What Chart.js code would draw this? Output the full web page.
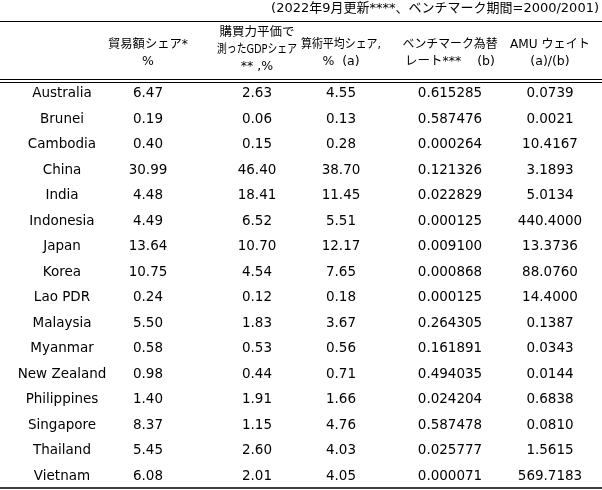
<!DOCTYPE html>
<html><head><meta charset="utf-8">
<script src="https://cdn.jsdelivr.net/npm/chart.js@4"></script>
<style>body{margin:0;background:#fff}#wrap{width:602px;height:490px}</style>
</head><body><div id="wrap"><canvas id="tbl"></canvas></div>
<script>
const countries = ['Australia','Brunei','Cambodia','China','India','Indonesia','Japan','Korea','Lao PDR','Malaysia','Myanmar','New Zealand','Philippines','Singapore','Thailand','Vietnam'];
const tradeShare = ['6.47','0.19','0.40','30.99','4.48','4.49','13.64','10.75','0.24','5.50','0.58','0.98','1.40','8.37','5.45','6.08'];
const gdpShare = ['2.63','0.06','0.15','46.40','18.41','6.52','10.70','4.54','0.12','1.83','0.53','0.44','1.91','1.15','2.60','2.01'];
const avgShare = ['4.55','0.13','0.28','38.70','11.45','5.51','12.17','7.65','0.18','3.67','0.56','0.71','1.66','4.76','4.03','4.05'];
const benchRate = ['0.615285','0.587476','0.000264','0.121326','0.022829','0.000125','0.009100','0.000868','0.000125','0.264305','0.161891','0.494035','0.024204','0.587478','0.025777','0.000071'];
const amuWeight = ['0.0739','0.0021','10.4167','3.1893','5.0134','440.4000','13.3736','88.0760','14.4000','0.1387','0.0343','0.0144','0.6838','0.0810','1.5615','569.7183'];
const headers = [
  [],
  ['貿易額シェア*','%'],
  ['購買力平価で','測ったGDPシェア','** ,%'],
  ['算術平均シェア,','%  (a)'],
  ['ベンチマーク為替','レート***    (b)'],
  ['AMU ウェイト','(a)/(b)']
];
const caption = '(2022年9月更新****、ベンチマーク期間=2000/2001)';

const colX = [62, 148, 257, 341, 450, 550];
const headW = [0, 80, 80, 80, 95, 80];
const FONT = '"DejaVu Sans", "Noto Sans CJK JP", sans-serif';

const tablePlugin = {
  id: 'tablePlugin',
  afterDraw(chart) {
    const ctx = chart.ctx, ys = chart.scales.y, W = chart.width;
    ctx.save();
    ctx.fillStyle = '#000';
    ctx.textBaseline = 'middle';
    // caption
    ctx.font = '13px ' + FONT;
    ctx.textAlign = 'right';
    ctx.fillText(caption, 599, 9, 340);
    // rules
    ctx.strokeStyle = '#000';
    [[21.5,1.2],[79.5,1],[82.5,1],[488,1.5]].forEach(([y,w]) => {
      ctx.lineWidth = w; ctx.beginPath(); ctx.moveTo(0, y); ctx.lineTo(W, y); ctx.stroke();
    });
    // headers
    ctx.textAlign = 'center';
    ctx.font = '12.5px ' + FONT;
    headers.forEach((lines, c) => {
      const y0 = lines.length === 3 ? 33 : 45;
      lines.forEach((t, i) => ctx.fillText(t, colX[c], y0 + i * 17, headW[c]));
    });
    // body
    ctx.font = '13.5px ' + FONT;
    const cols = [countries, tradeShare, gdpShare, avgShare, benchRate, amuWeight];
    countries.forEach((name, r) => {
      const y = ys.getPixelForValue(r);
      cols.forEach((col, c) => ctx.fillText(col[r], colX[c], y + 1));
    });
    ctx.restore();
  }
};

new Chart(document.getElementById('tbl'), {
  type: 'bar',
  data: { labels: countries, datasets: [{ data: countries.map(() => 0) }] },
  options: {
    indexAxis: 'y',
    animation: false,
    responsive: true,
    maintainAspectRatio: false,
    layout: { padding: { top: 80, bottom: 2, left: 0, right: 0 } },
    scales: {
      x: { display: false, min: 0, max: 1 },
      y: { display: false, offset: true }
    },
    plugins: { legend: { display: false }, tooltip: { enabled: false } }
  },
  plugins: [tablePlugin]
});
</script></body></html>
